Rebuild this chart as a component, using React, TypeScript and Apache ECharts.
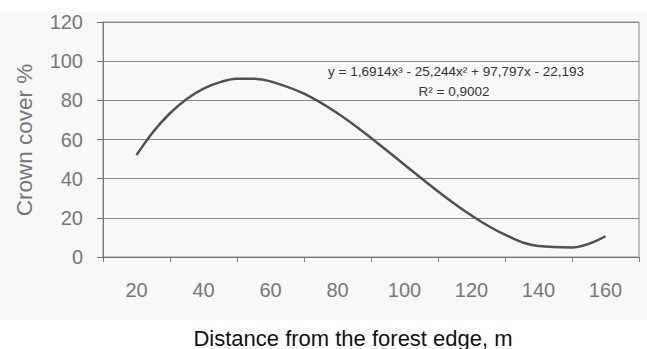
import React, { useEffect, useRef } from "react";
import * as echarts from "echarts";

const categories = ["20", "40", "60", "80", "100", "120", "140", "160"];
const distances = [20, 25, 30, 35, 40, 45, 50, 55, 60, 70, 80, 90, 100, 110, 120, 130, 140, 150, 160];
const crownCover = [52, 64, 73.4, 80.7, 86, 89.3, 91, 91, 89.7, 83.4, 73.4, 60.8, 47.1, 33.5, 21.2, 11.4, 5.6, 4.9, 10.6];
const yTicks = { min: 0, max: 120, interval: 20 };
const equationText = "y = 1,6914x³ - 25,244x² + 97,797x - 22,193";
const r2Text = "R² = 0,9002";
const xTitle = "Distance from the forest edge, m";
const yTitle = "Crown cover %";

export default function App() {
  const ref = useRef<HTMLDivElement>(null);
  useEffect(() => {
    if (!ref.current) return;
    const chart = echarts.init(ref.current, undefined, { renderer: "svg" });
    const font = "'Liberation Sans', Arial, sans-serif";
    chart.setOption({
      animation: false,
      backgroundColor: "#ffffff",
      grid: {
        left: 103,
        right: 8,
        top: 22,
        bottom: 92,
        show: true,
        borderColor: "#8a8a8a",
        borderWidth: 1,
      },
      xAxis: [
        {
          type: "category",
          data: categories,
          boundaryGap: true,
          axisLine: { show: true, lineStyle: { color: "#777", width: 1 } },
          axisTick: { show: true, length: 5, lineStyle: { color: "#777" } },
          axisLabel: { color: "#777", fontSize: 20, fontFamily: font, margin: 23 },
          splitLine: { show: false },
        },
        {
          type: "value",
          min: 10,
          max: 170,
          show: false,
        },
      ],
      yAxis: {
        type: "value",
        min: yTicks.min,
        max: yTicks.max,
        interval: yTicks.interval,
        axisLine: { show: true, lineStyle: { color: "#777", width: 1 } },
        axisTick: { show: true, length: 6, lineStyle: { color: "#777" } },
        axisLabel: { color: "#777", fontSize: 20, fontFamily: font, margin: 20 },
        splitLine: { show: true, lineStyle: { color: "#8a8a8a", width: 1 } },
      },
      series: [
        {
          type: "line",
          xAxisIndex: 1,
          data: distances.map((d, i) => [d, crownCover[i]]),
          smooth: 0.4,
          showSymbol: false,
          lineStyle: { color: "#505050", width: 2.5 },
        },
      ],
      graphic: [
        {
          type: "rect",
          z: -10,
          shape: { x: 0, y: 12, width: 647, height: 308 },
          style: { fill: "#f8f8f8" },
        },
        {
          type: "text",
          x: 456,
          y: 71,
          style: {
            text: equationText,
            fill: "#333",
            font: `13.5px ${font}`,
            align: "center",
            verticalAlign: "middle",
          },
        },
        {
          type: "text",
          x: 454,
          y: 91,
          style: {
            text: r2Text,
            fill: "#333",
            font: `13.5px ${font}`,
            align: "center",
            verticalAlign: "middle",
          },
        },
        {
          type: "text",
          x: 353,
          y: 338,
          style: {
            text: xTitle,
            fill: "#111",
            font: `22px ${font}`,
            align: "center",
            verticalAlign: "middle",
          },
        },
        {
          type: "text",
          x: 24,
          y: 140,
          rotation: Math.PI / 2,
          style: {
            text: yTitle,
            fill: "#777",
            font: `22.5px ${font}`,
            align: "center",
            verticalAlign: "middle",
          },
        },
      ],
    });
    return () => chart.dispose();
  }, []);
  return <div ref={ref} style={{ width: 647, height: 349, position: "absolute", left: 0, top: 0 }} />;
}
